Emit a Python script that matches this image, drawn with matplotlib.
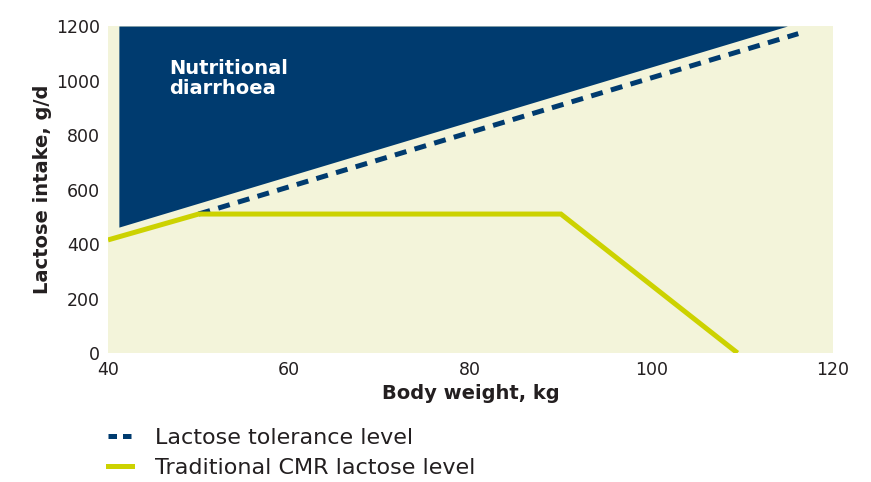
import matplotlib
matplotlib.use("Agg")
import matplotlib.pyplot as plt
from matplotlib.lines import Line2D

# body weight (kg) / lactose intake (g/d)
cmr_weight = [40, 50, 90, 109.5]
cmr_lactose = [415, 510, 510, 0]

tol_weight = [50, 116.2]
tol_lactose = [510, 1172]

diarrhoea_weight = [41.2, 115]
diarrhoea_lower = [462, 1200]

xticks = [40, 60, 80, 100, 120]
yticks = [0, 200, 400, 600, 800, 1000, 1200]

navy = "#003B6F"
yellow = "#CCD200"
cream = "#F3F4DA"
txt = "#231F20"

plt.rcParams['font.family'] = ['DejaVu Sans']

fig = plt.figure(figsize=(8.71, 4.82), dpi=100)
ax = fig.add_axes([0.124, 0.2676, 0.832, 0.6784])
ax.set_facecolor(cream)

ax.fill_between(diarrhoea_weight, diarrhoea_lower, [1200, 1200], color=navy, lw=0)
ax.plot(tol_weight, tol_lactose, color=navy, lw=3.6, dashes=(2.4, 1.7))
ax.plot(cmr_weight, cmr_lactose, color=yellow, lw=3.6, solid_capstyle='butt', solid_joinstyle='miter')

ax.text(46.8, 1078, "Nutritional\ndiarrhoea", color="white", fontsize=14,
        fontweight="bold", va="top", ha="left", linespacing=1.05)

ax.set_xlim(40, 120)
ax.set_ylim(0, 1200)
ax.set_xticks(xticks)
ax.set_yticks(yticks)
ax.tick_params(length=0, labelsize=12.5, colors=txt, pad=6)
for s in ax.spines.values():
    s.set_visible(False)

ax.set_xlabel("Body weight, kg", fontsize=14, fontweight="bold", color=txt, labelpad=3)
ax.set_ylabel("Lactose intake, g/d", fontsize=14, fontweight="bold", color=txt, labelpad=3)

handles = [Line2D([], [], color=navy, lw=3.6, dashes=(1.7, 1.2)),
           Line2D([], [], color=yellow, lw=3.6)]
fig.legend(handles, ["Lactose tolerance level", "Traditional CMR lactose level"],
           loc="upper left", bbox_to_anchor=(0.124, 0.112), frameon=False,
           borderpad=0, borderaxespad=0,
           fontsize=16, handlelength=1.1, handletextpad=1.0, labelspacing=0.45,
           labelcolor=txt)

fig.savefig("out.png", dpi=100)
